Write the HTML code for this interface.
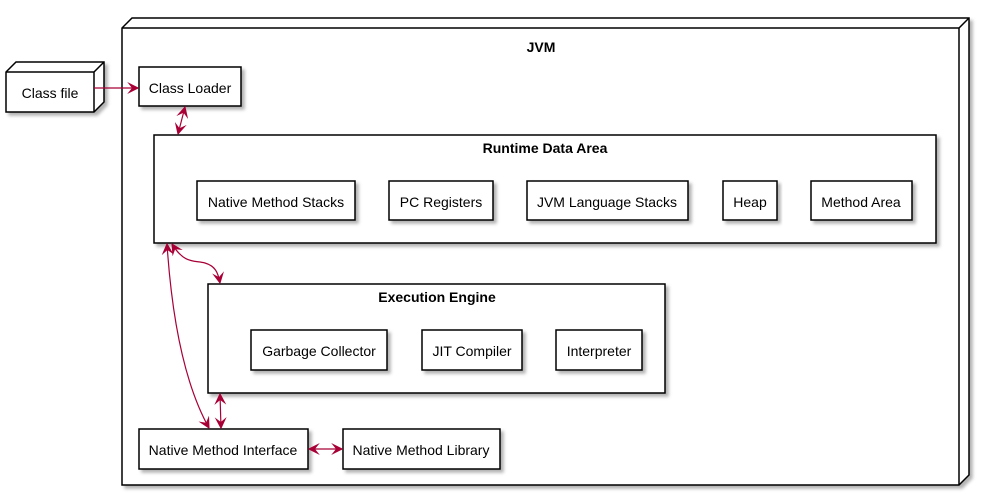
<!DOCTYPE html>
<html><head><meta charset="utf-8"><style>
body{margin:0;background:#fff}
text{font-family:"Liberation Sans",sans-serif;font-size:14px;fill:#000}
.b{font-weight:bold}
</style></head><body>
<svg width="989" height="495" xmlns="http://www.w3.org/2000/svg">
<defs>
<filter id="s" x="-5%" y="-5%" width="115%" height="130%"><feDropShadow dx="3" dy="3" stdDeviation="1.5" flood-color="#000" flood-opacity="0.3"/></filter>
<marker id="a" viewBox="0 0 10 10" refX="9" refY="5" markerWidth="12" markerHeight="12" orient="auto-start-reverse" markerUnits="userSpaceOnUse"><path d="M0,0 L10,5 L0,10 L4,5 Z" fill="#A80036"/></marker>
</defs>
<g stroke="#000" stroke-width="1.5" fill="#fff">
<path filter="url(#s)" d="M6,72 L16,62 L104,62 L104,102 L94,112 L6,112 Z"/>
<path d="M6,72 L94,72 L104,62 M94,72 L94,112" fill="none"/>
<path filter="url(#s)" d="M122,28 L132,18 L969,18 L969,475 L959,485 L122,485 Z"/>
<path d="M122,28 L959,28 L969,18 M959,28 L959,485" fill="none"/>
<rect filter="url(#s)" x="139" y="67" width="102" height="39"/>
<rect filter="url(#s)" x="154" y="135" width="782" height="108"/>
<rect filter="url(#s)" x="197" y="181" width="158" height="39"/>
<rect filter="url(#s)" x="389" y="181" width="104" height="39"/>
<rect filter="url(#s)" x="527" y="181" width="161" height="39"/>
<rect filter="url(#s)" x="723" y="181" width="54" height="39"/>
<rect filter="url(#s)" x="811" y="181" width="101" height="39"/>
<rect filter="url(#s)" x="208" y="284" width="457" height="109"/>
<rect filter="url(#s)" x="251" y="330" width="136" height="40"/>
<rect filter="url(#s)" x="422" y="330" width="100" height="40"/>
<rect filter="url(#s)" x="556" y="330" width="86" height="40"/>
<rect filter="url(#s)" x="139" y="429" width="169" height="40"/>
<rect filter="url(#s)" x="343" y="429" width="157" height="40"/>
</g>
<g stroke="#A80036" stroke-width="1.2" fill="none">
<path d="M94,88 L138,88" marker-end="url(#a)"/>
<path d="M185,107 L178,134" marker-start="url(#a)" marker-end="url(#a)"/>
<path d="M172,244 C185,265 195,260 205,263 C215,266 218,272 220,283" marker-start="url(#a)" marker-end="url(#a)"/>
<path d="M167,244 C172,320 185,385 209,428" marker-start="url(#a)" marker-end="url(#a)"/>
<path d="M220,394 L221,428" marker-start="url(#a)" marker-end="url(#a)"/>
<path d="M309,449 L342,449" marker-start="url(#a)" marker-end="url(#a)"/>
</g>
<text x="50" y="98" text-anchor="middle">Class file</text>
<text x="541" y="52" text-anchor="middle" class="b">JVM</text>
<text x="190" y="93" text-anchor="middle">Class Loader</text>
<text x="545" y="153" text-anchor="middle" class="b">Runtime Data Area</text>
<text x="276" y="207" text-anchor="middle">Native Method Stacks</text>
<text x="441" y="207" text-anchor="middle">PC Registers</text>
<text x="607" y="207" text-anchor="middle">JVM Language Stacks</text>
<text x="750" y="207" text-anchor="middle">Heap</text>
<text x="861" y="207" text-anchor="middle">Method Area</text>
<text x="437" y="302" text-anchor="middle" class="b">Execution Engine</text>
<text x="319" y="356" text-anchor="middle">Garbage Collector</text>
<text x="472" y="356" text-anchor="middle">JIT Compiler</text>
<text x="599" y="356" text-anchor="middle">Interpreter</text>
<text x="223" y="455" text-anchor="middle">Native Method Interface</text>
<text x="421" y="455" text-anchor="middle">Native Method Library</text>
</svg>
</body></html>
